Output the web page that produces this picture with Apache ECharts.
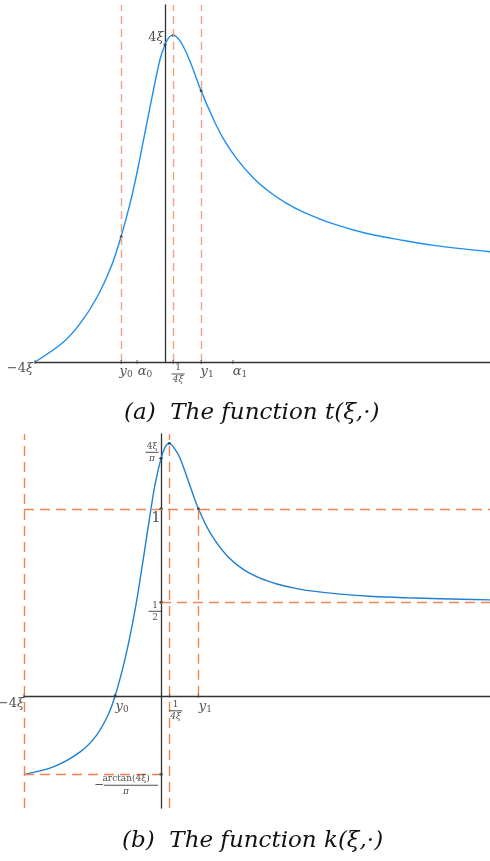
<!DOCTYPE html>
<html>
<head>
    <meta charset="utf-8">
    <title>t and k</title>
    <script src="https://cdn.jsdelivr.net/npm/echarts@6/dist/echarts.min.js"></script>
</head>
<body style="margin:0;background:#fff">
<div id="main" style="width:490px;height:861px;"></div>
<script type="text/javascript">
    // values (xi = 1)
    var xi = 1
    // (a) the function t(xi, .)
    var tX = [-4, -3.13, -2.62, -2.10, -1.64, -1.36, -1.08, -0.87, -0.67, -0.54, -0.31, -0.15, 0, 0.12, 0.25, 0.40, 0.56, 0.77, 1.10, 1.49, 1.79, 2.21, 2.72, 3.23, 3.74, 4.26, 5.18, 6.21, 7.23, 8.26, 10]
    var tY = [0, 0.25, 0.48, 0.81, 1.22, 1.57, 1.99, 2.37, 2.78, 3.05, 3.52, 3.82, 4.0, 4.09, 4.12, 4.08, 3.98, 3.79, 3.43, 3.06, 2.82, 2.56, 2.32, 2.14, 2.00, 1.89, 1.74, 1.62, 1.54, 1.47, 1.39]
    var tTicks = [-4 * xi, -1.35, -0.86, 1 / (4 * xi), 1.11, 2.09]
    var tTickLabels = ['{r|−4}{v|ξ}', '{v|y}{sub|0}', '{v|α}{sub|0}', '{n|1}\n{bar| }\n{d|4ξ}', '{v|y}{sub|1}', '{v|α}{sub|1}']
    var tDashX = [-1.35, 1 / (4 * xi), 1.11]
    var tDots = [[-1.35, 1.58], [1.11, 3.42], [0.25, 4.12], [0, 4.0]]

    // (b) the function k(xi, .)
    var kX = [-4, -3.14, -2.36, -1.88, -1.54, -1.34, -1.10, -0.905, -0.71, -0.52, -0.32, -0.175, 0, 0.12, 0.24, 0.40, 0.555, 0.85, 1.09, 1.43, 1.92, 2.40, 2.89, 3.38, 3.86, 4.25, 5.23, 6.20, 7.17, 8.15, 9.6]
    var kY = [-0.42, -0.38, -0.30, -0.21, -0.10, 0, 0.16, 0.32, 0.51, 0.73, 0.97, 1.13, 1.27, 1.33, 1.35, 1.32, 1.27, 1.12, 1.0, 0.873, 0.75, 0.676, 0.629, 0.598, 0.577, 0.564, 0.544, 0.531, 0.524, 0.519, 0.513]
    var kTicks = [-4 * xi, -1.34, 1 / (4 * xi), 1.09]
    var kTickLabels = ['{r|−4}{v|ξ}', '{v|y}{sub|0}', '{n|1}\n{bar| }\n{d|4ξ}', '{v|y}{sub|1}']
    var kYTicks = [1.27, 1, 0.5, -0.42]
    var kYTickLabels = ['{n|4ξ}\n{bar| }\n{d|π}', '{big|1}', '{n|1}\n{bar| }\n{n|2}', '{fn|arctan(4ξ)}\n{m|−}{bar2| }\n{fd|π}']
    var kDots = [[0.24, 1.35], [1.09, 1.0], [-1.34, 0], [0, 1.27], [0, 1], [0, 0.5], [0, -0.42]]

    var serif = 'DejaVu Serif'
    var ink = '#222'
    var blue = '#1e8ff0'
    var dashA = '#eca487'
    var dashB = '#ef8550'

    var rich = {
        v: {fontFamily: serif, fontStyle: 'italic', fontSize: 13, color: ink, lineHeight: 14},
        r: {fontFamily: serif, fontSize: 13, color: ink, lineHeight: 14},
        sub: {fontFamily: serif, fontSize: 9, color: ink, lineHeight: 9, verticalAlign: 'bottom'},
        n: {fontFamily: serif, fontSize: 9, color: ink, width: 14, align: 'center', lineHeight: 9},
        d: {fontFamily: serif, fontStyle: 'italic', fontSize: 9, color: ink, width: 14, align: 'center', lineHeight: 9},
        bar: {width: 13, height: 1, lineHeight: 3, fontSize: 1, backgroundColor: ink},
        big: {fontFamily: serif, fontSize: 15, color: ink},
        fn: {fontFamily: serif, fontSize: 9, color: ink, width: 54, align: 'center', lineHeight: 9},
        fd: {fontFamily: serif, fontStyle: 'italic', fontSize: 9, color: ink, width: 54, align: 'center', lineHeight: 9},
        m: {fontFamily: serif, fontSize: 12, color: ink, width: 10, lineHeight: 4},
        bar2: {width: 54, height: 1, lineHeight: 4, fontSize: 1, backgroundColor: ink}
    }

    // label offsets (pixels, from tick point)
    var tOffsets = [[-15, 7], [5, 10], [8, 10], [5, 12], [6, 10], [7, 10]]
    var kOffsets = [[-13, 8], [7, 11], [6, 15], [7, 11]]
    var kYOffsets = [[-9, -6], [-5, 9], [-6, 9], [-3, 11]]

    function zip(xs, ys) {
        return xs.map(function (x, i) { return [x, ys[i]] })
    }

    function tickSeries(xs, labels, offsets, axis, onY) {
        return {
            type: 'scatter',
            xAxisIndex: axis, yAxisIndex: axis,
            symbol: 'rect',
            symbolSize: onY ? [4, 1] : [1, 4],
            itemStyle: {color: '#444'},
            silent: true,
            z: 5,
            data: xs.map(function (x, i) {
                return {
                    value: onY ? [0, x] : [x, 0],
                    label: {
                        show: true,
                        position: 'inside',
                        offset: offsets[i],
                        formatter: labels[i],
                        align: onY && i === 3 ? 'right' : 'center',
                        rich: rich
                    }
                }
            })
        }
    }

    function dashLines(pairs, color, dash, axis) {
        return {
            type: 'line',
            xAxisIndex: axis, yAxisIndex: axis,
            data: [],
            markLine: {
                silent: true,
                symbol: 'none',
                label: {show: false},
                lineStyle: {color: color, type: dash, width: 1.4},
                data: pairs.map(function (p) {
                    return [{coord: p[0]}, {coord: p[1]}]
                })
            }
        }
    }

    var chart = echarts.init(document.getElementById('main'))

    var axisLine = {show: true, onZero: true, lineStyle: {color: '#333', width: 1.3}}
    function xax(min, max, idx) {
        return {type: 'value', gridIndex: idx, min: min, max: max, axisLine: axisLine, axisTick: {show: false},
            axisLabel: {show: false}, splitLine: {show: false}}
    }
    function yax(min, max, idx) {
        return {type: 'value', gridIndex: idx, min: min, max: max, axisLine: axisLine, axisTick: {show: false},
            axisLabel: {show: false}, splitLine: {show: false}}
    }

    var tMin = 0, tMax = 4.5, kMin = -0.6, kMax = 1.4, kRight = 9.6
    var caption = {fontFamily: serif, fontStyle: 'italic', fontWeight: 'normal', fontSize: 23, color: '#111'}

    var option = {
        animation: false,
        title: [
            {text: '(a)  The function t(ξ,·)', left: 119, top: 397, textStyle: caption},
            {text: '(b)  The function k(ξ,·)', left: 117, top: 825, textStyle: caption}
        ],
        grid: [
            {left: 35, top: 5, width: 455, height: 357},
            {left: 24, top: 434, width: 466, height: 374}
        ],
        xAxis: [xax(-4, 10, 0), xax(-4, kRight, 1)],
        yAxis: [yax(tMin, tMax, 0), yax(kMin, kMax, 1)],
        series: [
            dashLines(tDashX.map(function (x) { return [[x, tMin], [x, tMax]] }), dashA, [8, 5], 0),
            {
                type: 'line', xAxisIndex: 0, yAxisIndex: 0, data: zip(tX, tY), smooth: 0.3,
                showSymbol: false, silent: true, lineStyle: {color: blue, width: 1.4}, z: 3
            },
            {
                type: 'scatter', xAxisIndex: 0, yAxisIndex: 0, data: tDots, symbolSize: 3,
                itemStyle: {color: '#333'}, silent: true, z: 4
            },
            tickSeries(tTicks, tTickLabels, tOffsets, 0, false),
            {
                type: 'scatter', xAxisIndex: 0, yAxisIndex: 0, symbolSize: 1, itemStyle: {color: 'rgba(0,0,0,0)'},
                silent: true,
                data: [{value: [0, 4 * xi], label: {show: true, position: 'inside', offset: [-9, -7],
                        formatter: '{r|4}{v|ξ}', rich: rich}}]
            },

            dashLines([
                [[-4 * xi, kMin], [-4 * xi, kMax]],
                [[1 / (4 * xi), kMin], [1 / (4 * xi), kMax]],
                [[1.09, 0], [1.09, 1]],
                [[-4 * xi, 1], [kRight, 1]],
                [[0, 0.5], [kRight, 0.5]],
                [[-4 * xi, -0.42], [0, -0.42]]
            ], dashB, [10, 6], 1),
            {
                type: 'line', xAxisIndex: 1, yAxisIndex: 1, data: zip(kX, kY), smooth: 0.3,
                showSymbol: false, silent: true, lineStyle: {color: '#1f7fd0', width: 1.4}, z: 3
            },
            {
                type: 'scatter', xAxisIndex: 1, yAxisIndex: 1, data: kDots, symbolSize: 3,
                itemStyle: {color: '#333'}, silent: true, z: 4
            },
            tickSeries(kTicks, kTickLabels, kOffsets, 1, false),
            tickSeries(kYTicks, kYTickLabels, kYOffsets, 1, true)
        ]
    }
    chart.setOption(option)
</script>
</body>
</html>
